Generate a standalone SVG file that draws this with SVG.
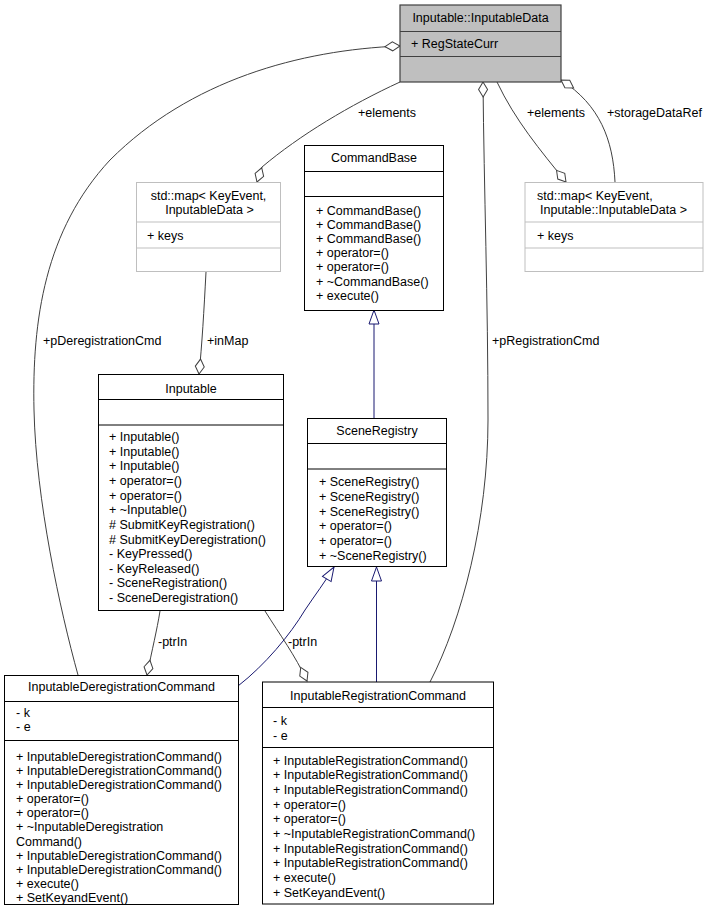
<svg xmlns="http://www.w3.org/2000/svg" width="708" height="919" viewBox="0 0 708 919">
<style>
text{font-family:"Liberation Sans",Arial,sans-serif;font-size:12.5px;fill:#000}
.c{text-anchor:middle}
.box{fill:#fff;stroke:#000;stroke-width:1}
.sel{fill:#bfbfbf;stroke:#404040;stroke-width:1.2}
.grey{fill:#fff;stroke:#bfbfbf;stroke-width:1}
.sep{stroke:#000;stroke-width:1}
.sepg{stroke:#bfbfbf;stroke-width:1}
.sepd{stroke:#404040;stroke-width:1.2}
.e{fill:none;stroke:#404040;stroke-width:1}
.g{fill:none;stroke:#191970;stroke-width:1}
</style>
<defs>
<marker id="dia" markerUnits="userSpaceOnUse" viewBox="-1 -6 17 12" refX="15" refY="0" markerWidth="17" markerHeight="12" orient="auto">
<path d="M0,0 L7.5,-4.5 L15,0 L7.5,4.5 Z" fill="#fff" stroke="#404040" stroke-width="1"/>
</marker>
<marker id="tri" markerUnits="userSpaceOnUse" viewBox="-1 -7 16 14" refX="14" refY="0" markerWidth="16" markerHeight="14" orient="auto">
<path d="M0,-5 L14,0 L0,5 Z" fill="#fff" stroke="#191970" stroke-width="1"/>
</marker>
</defs>

<g id="edges">
<path class="e" d="M78,675 C60,610 36,500 34,410 C32,320 45,230 110,160 C190,80 300,50 400,46" marker-end="url(#dia)"/>
<path class="e" d="M400,82 C350,105 300,135 262,167 L257,182" marker-end="url(#dia)"/>
<path class="e" d="M430,682 C462,620 488,520 488,420 C488,300 484,190 483,82" marker-end="url(#dia)"/>
<path class="e" d="M497,82 C515,120 540,150 566,182" marker-end="url(#dia)"/>
<path class="e" d="M615,182 C613,140 600,105 561,80" marker-end="url(#dia)"/>
<path class="e" d="M206,272 C204,310 202,345 199,374" marker-end="url(#dia)"/>
<path class="e" d="M160,611 C157,630 152,650 147,675" marker-end="url(#dia)"/>
<path class="e" d="M265,611 C280,635 295,655 307,681" marker-end="url(#dia)"/>
<path class="g" d="M374,418 L374,310" marker-end="url(#tri)"/>
<path class="g" d="M238,686 C265,665 290,635 305,610 C315,595 325,582 334,567" marker-end="url(#tri)"/>
<path class="g" d="M376.5,682 L376.5,567" marker-end="url(#tri)"/>
<text x="358" y="117">+elements</text>
<text x="527" y="117">+elements</text>
<text x="607" y="117">+storageDataRef</text>
<text x="43" y="345">+pDeregistrationCmd</text>
<text x="207" y="345">+inMap</text>
<text x="492" y="345">+pRegistrationCmd</text>
<text x="158" y="646">-ptrIn</text>
<text x="288" y="646">-ptrIn</text>
</g>

<g id="InputableData">
<rect class="sel" x="400" y="5" width="161" height="77"/>
<line class="sepd" x1="400" y1="31.5" x2="561" y2="31.5"/>
<line class="sepd" x1="400" y1="56.5" x2="561" y2="56.5"/>
<text class="c" x="480.5" y="22">Inputable::InputableData</text>
<text x="411" y="48">+ RegStateCurr</text>
</g>

<g id="MapLeft">
<rect class="grey" x="136.5" y="182.5" width="144" height="89"/>
<line class="sepg" x1="136.5" y1="222" x2="280.5" y2="222"/>
<line class="sepg" x1="136.5" y1="248" x2="280.5" y2="248"/>
<text class="c" x="208.5" y="200">std::map&lt; KeyEvent,</text>
<text class="c" x="209.5" y="214">InputableData &gt;</text>
<text x="147" y="240">+ keys</text>
</g>

<g id="MapRight">
<rect class="grey" x="525" y="182.5" width="178" height="89"/>
<line class="sepg" x1="525" y1="222" x2="703" y2="222"/>
<line class="sepg" x1="525" y1="248" x2="703" y2="248"/>
<text x="537" y="200">std::map&lt; KeyEvent,</text>
<text x="540" y="214">Inputable::InputableData &gt;</text>
<text x="537" y="240">+ keys</text>
</g>

<g id="CommandBase">
<rect class="box" x="304.5" y="145.5" width="139" height="165"/>
<line class="sep" x1="304.5" y1="171.5" x2="443.5" y2="171.5"/>
<line class="sep" x1="304.5" y1="196.5" x2="443.5" y2="196.5"/>
<text class="c" x="374" y="162">CommandBase</text>
<text x="316" y="214.5">+ CommandBase()</text>
<text x="316" y="228.7">+ CommandBase()</text>
<text x="316" y="242.9">+ CommandBase()</text>
<text x="316" y="257.1">+ operator=()</text>
<text x="316" y="271.3">+ operator=()</text>
<text x="316" y="285.5">+ ~CommandBase()</text>
<text x="316" y="299.7">+ execute()</text>
</g>

<g id="Inputable">
<rect class="box" x="98.5" y="374.5" width="185" height="236"/>
<line class="sep" x1="98.5" y1="399.5" x2="283.5" y2="399.5"/>
<line class="sep" x1="98.5" y1="425" x2="283.5" y2="425"/>
<text class="c" x="191" y="392.5">Inputable</text>
<text x="109" y="441">+ Inputable()</text>
<text x="109" y="455.6">+ Inputable()</text>
<text x="109" y="470.3">+ Inputable()</text>
<text x="109" y="484.9">+ operator=()</text>
<text x="109" y="499.6">+ operator=()</text>
<text x="109" y="514.2">+ ~Inputable()</text>
<text x="109" y="528.8"># SubmitKeyRegistration()</text>
<text x="109" y="543.5"># SubmitKeyDeregistration()</text>
<text x="109" y="558.1">- KeyPressed()</text>
<text x="109" y="572.8">- KeyReleased()</text>
<text x="109" y="587.4">- SceneRegistration()</text>
<text x="109" y="602">- SceneDeregistration()</text>
</g>

<g id="SceneRegistry">
<rect class="box" x="307.5" y="418.5" width="139" height="148"/>
<line class="sep" x1="307.5" y1="443.5" x2="446.5" y2="443.5"/>
<line class="sep" x1="307.5" y1="469" x2="446.5" y2="469"/>
<text class="c" x="377" y="435">SceneRegistry</text>
<text x="319" y="486">+ SceneRegistry()</text>
<text x="319" y="500.8">+ SceneRegistry()</text>
<text x="319" y="515.6">+ SceneRegistry()</text>
<text x="319" y="530.4">+ operator=()</text>
<text x="319" y="545.2">+ operator=()</text>
<text x="319" y="560">+ ~SceneRegistry()</text>
</g>

<g id="InputableDeregistrationCommand">
<rect class="box" x="4.5" y="675.5" width="234" height="229"/>
<line class="sep" x1="4.5" y1="701.5" x2="238.5" y2="701.5"/>
<line class="sep" x1="4.5" y1="740.5" x2="238.5" y2="740.5"/>
<text class="c" x="121.5" y="691">InputableDeregistrationCommand</text>
<text x="16" y="717">- k</text>
<text x="16" y="731">- e</text>
<text x="16" y="760.5">+ InputableDeregistrationCommand()</text>
<text x="16" y="774.7">+ InputableDeregistrationCommand()</text>
<text x="16" y="788.8">+ InputableDeregistrationCommand()</text>
<text x="16" y="803">+ operator=()</text>
<text x="16" y="817.2">+ operator=()</text>
<text x="16" y="831.4">+ ~InputableDeregistration</text>
<text x="16" y="845.5">Command()</text>
<text x="16" y="859.7">+ InputableDeregistrationCommand()</text>
<text x="16" y="873.9">+ InputableDeregistrationCommand()</text>
<text x="16" y="888">+ execute()</text>
<text x="16" y="902.2">+ SetKeyandEvent()</text>
</g>

<g id="InputableRegistrationCommand">
<rect class="box" x="262.5" y="682" width="231" height="222"/>
<line class="sep" x1="262.5" y1="707.5" x2="493.5" y2="707.5"/>
<line class="sep" x1="262.5" y1="747.5" x2="493.5" y2="747.5"/>
<text class="c" x="378" y="699.5">InputableRegistrationCommand</text>
<text x="273" y="724.5">- k</text>
<text x="273" y="739.5">- e</text>
<text x="273" y="764.5">+ InputableRegistrationCommand()</text>
<text x="273" y="779.2">+ InputableRegistrationCommand()</text>
<text x="273" y="793.9">+ InputableRegistrationCommand()</text>
<text x="273" y="808.6">+ operator=()</text>
<text x="273" y="823.3">+ operator=()</text>
<text x="273" y="838">+ ~InputableRegistrationCommand()</text>
<text x="273" y="852.7">+ InputableRegistrationCommand()</text>
<text x="273" y="867.4">+ InputableRegistrationCommand()</text>
<text x="273" y="882.1">+ execute()</text>
<text x="273" y="896.8">+ SetKeyandEvent()</text>
</g>
</svg>
